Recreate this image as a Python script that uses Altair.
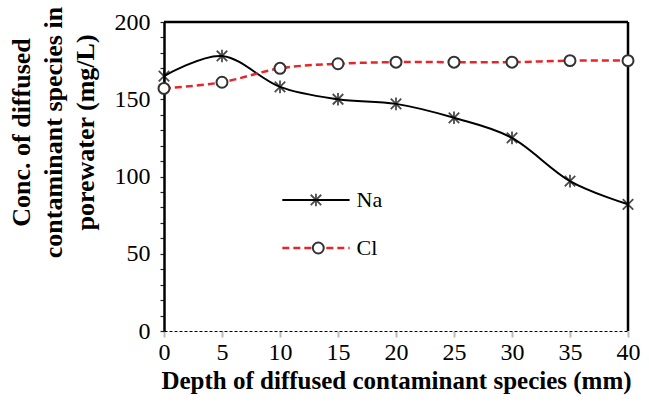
import altair as alt
import pandas as pd

depth = [0, 5, 10, 15, 20, 25, 30, 35, 40]
na_vals = [165, 178, 158, 150, 147, 138, 125, 97, 82]
cl_vals = [157, 161, 170, 173, 174, 174, 174, 175, 175]

series_names = ["Na", "Cl"]
# legend placement in data units
leg_x1 = [10.2, 10.2]
leg_x2 = [16.0, 16.0]
leg_xm = [13.1, 13.3]
leg_xt = [16.6, 16.6]
leg_y = [84.8, 53.7]

x_ticks = [0, 5, 10, 15, 20, 25, 30, 35, 40]
y_ticks = [0, 10, 20, 30, 40, 50, 60, 70, 80, 90, 100, 110, 120, 130, 140, 150, 160, 170, 180, 190, 200]

FONT = "Liberation Serif"

na = pd.DataFrame({"depth": depth, "value": na_vals})
cl = pd.DataFrame({"depth": depth, "value": cl_vals})

xs = alt.Scale(domain=[0, 40], nice=False)
ys = alt.Scale(domain=[0, 200], nice=False)

x_axis = alt.Axis(values=x_ticks, title="Depth of diffused contaminant species (mm)",
                  grid=False, domain=True, domainColor="black", domainWidth=1, domainDash=[3, 2],
                  tickColor="#bbb", tickSize=6, tickWidth=2, labelFlush=False,
                  labelFont=FONT, labelFontSize=24, labelColor="black", labelPadding=3,
                  labelOverlap=False,
                  titleFont=FONT, titleFontSize=25, titleFontWeight="bold", titleColor="black",
                  titlePadding=4)
y_axis = alt.Axis(values=y_ticks,
                  labelExpr="datum.value % 50 == 0 ? datum.label : ''",
                  labelOverlap=False, labelFlush=False,
                  title=["Conc. of diffused", "contaminant species in", "porewater (mg/L)"],
                  grid=False, domainColor="black", domainWidth=2.5,
                  tickColor="#222", tickSize=4, tickWidth=1.2,
                  labelFont=FONT, labelFontSize=24, labelColor="black", labelPadding=10,
                  titleFont=FONT, titleFontSize=26, titleFontWeight="bold", titleColor="black",
                  titleLineHeight=32, titlePadding=16, titleY=110)

asterisk = "M-1,-1L1,1M-1,1L1,-1M0,-1.2L0,1.2"

XN = lambda f: alt.X(f, scale=xs, axis=x_axis)
YN = lambda f: alt.Y(f, scale=ys, axis=y_axis)

na_line = alt.Chart(na).mark_line(color="black", strokeWidth=2, interpolate="cardinal").encode(
    x=XN("depth:Q"), y=YN("value:Q"))
na_pts = alt.Chart(na).mark_point(shape=asterisk, size=110, color="black", strokeWidth=1.8, filled=False).encode(
    x=XN("depth:Q"), y=YN("value:Q"))

cl_line = alt.Chart(cl).mark_line(color="#e8262a", strokeWidth=2.5, strokeDash=[7, 4], interpolate="cardinal").encode(
    x=XN("depth:Q"), y=YN("value:Q"))
cl_pts = alt.Chart(cl).mark_point(shape="circle", size=120, stroke="#333", strokeWidth=2, fill="white", filled=False, opacity=1, fillOpacity=1).encode(
    x=XN("depth:Q"), y=YN("value:Q"))

leg = pd.DataFrame({"name": series_names, "x1": leg_x1, "x2": leg_x2, "xm": leg_xm, "xt": leg_xt, "y": leg_y})
leg_na = leg[leg.name == "Na"]
leg_cl = leg[leg.name == "Cl"]

leg_na_rule = alt.Chart(leg_na).mark_rule(color="black", strokeWidth=2).encode(
    x=XN("x1:Q"), x2="x2:Q", y=YN("y:Q"))
leg_na_pt = alt.Chart(leg_na).mark_point(shape=asterisk, size=110, color="black", strokeWidth=1.8).encode(
    x=XN("xm:Q"), y=YN("y:Q"))
leg_cl_rule = alt.Chart(leg_cl).mark_rule(color="#e8262a", strokeWidth=2.5, strokeDash=[7, 4]).encode(
    x=XN("x1:Q"), x2="x2:Q", y=YN("y:Q"))
leg_cl_pt = alt.Chart(leg_cl).mark_point(shape="circle", size=120, stroke="#333", strokeWidth=2, fill="white", fillOpacity=1, opacity=1).encode(
    x=XN("xm:Q"), y=YN("y:Q"))
leg_text = alt.Chart(leg).mark_text(font=FONT, fontSize=22, align="left", baseline="middle", color="black").encode(
    x=XN("xt:Q"), y=YN("y:Q"), text="name:N")

# frame (top and right borders)
top_border = alt.Chart(leg_na).mark_rule(color="black", strokeWidth=2.5).encode(
    x=alt.value(0), x2=alt.value(464), y=alt.value(0))
right_border = alt.Chart(leg_na).mark_rule(color="black", strokeWidth=2.5).encode(
    x=alt.value(464), y=alt.value(0), y2=alt.value(309))

chart = alt.layer(na_line, top_border, right_border, cl_line, na_pts, cl_pts,
                  leg_na_rule, leg_cl_rule, leg_na_pt, leg_cl_pt, leg_text).properties(
    width=464, height=309,
    autosize=alt.AutoSizeParams(type="none"),
    padding={"left": 164, "top": 22, "right": 21, "bottom": 74},
    background="white",
).configure_view(stroke=None).configure_axis(
    labelFont=FONT, titleFont=FONT, labelFontSize=24, labelColor="black", titleColor="black"
)

chart.save("out.html", embed_options={"renderer": "svg", "actions": False})
